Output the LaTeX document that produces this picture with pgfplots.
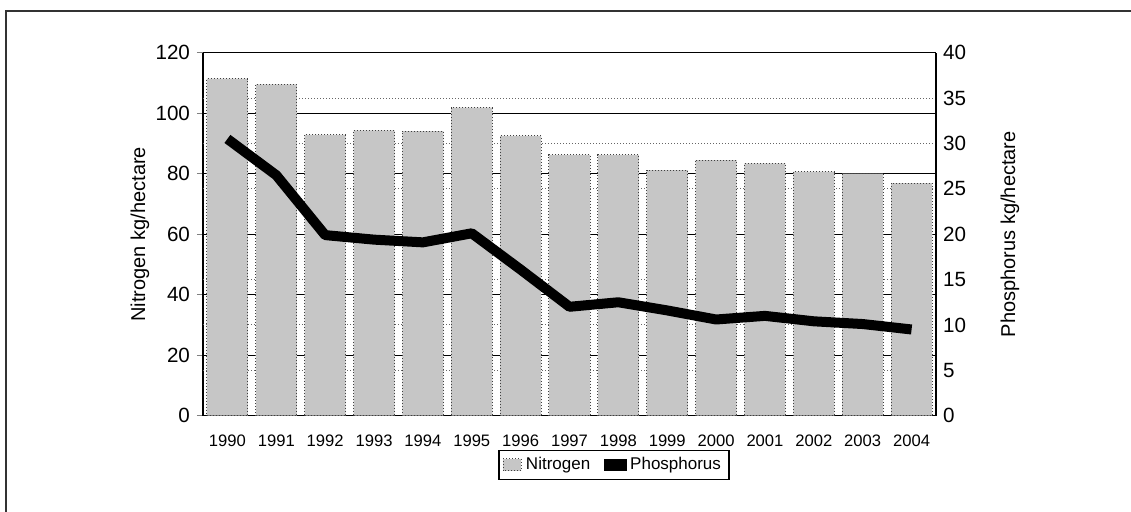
\documentclass[border=0pt]{standalone}
\usepackage{pgfplots}
\pgfplotsset{compat=1.18}
\usepackage{fontspec}
\setmainfont{Liberation Sans}
\begin{document}
\begin{tikzpicture}
\useasboundingbox (-101.5pt,-48.15pt) rectangle (464pt,207.85pt);
\draw[line width=0.8pt,black!80] (-98.5pt,-48.15pt) -- (-98.5pt,202.35pt) -- (464pt,202.35pt);
\begin{axis}[
  scale only axis, width=366.5pt, height=181.5pt,
  at={(0,0)}, anchor=south west,
  xmin=-0.5, xmax=14.5, ymin=0, ymax=120,
  axis y line*=left, axis x line*=bottom,
  xtick={0,...,14},
  xticklabels={1990,1991,1992,1993,1994,1995,1996,1997,1998,1999,2000,2001,2002,2003,2004},
  x tick label style={font=\fontsize{8.3}{9}\selectfont, yshift=-3pt},
  major x tick style={draw=none},
  ytick={0,20,...,120},
  y tick label style={font=\fontsize{10.3}{12}\selectfont},
  /pgf/number format/assume math mode=true,
  tick align=outside, major tick length=3pt,
  ymajorgrids, major grid style={black, line width=0.5pt},
  extra y ticks={15,30,45,75,90,105},
  extra y tick labels={},
  extra y tick style={major tick length=0pt, grid=major, major grid style={black!60, densely dotted, line width=0.5pt}},
  ylabel={Nitrogen kg/hectare},
  ylabel style={font=\fontsize{10}{12}\selectfont, at={(axis description cs:-0.0859,0.5)}, anchor=center},
  axis line style={black, line width=0.6pt},
  ybar, bar width=0.84,
]
\addplot[fill=gray!45, draw=black!75, densely dotted, line width=0.5pt] coordinates {
(0,111.4) (1,109.5) (2,92.8) (3,94.3) (4,94.1) (5,101.8) (6,92.5) (7,86.2)
(8,86.2) (9,81.2) (10,84.5) (11,83.4) (12,80.7) (13,80.0) (14,76.9)};
\end{axis}
\begin{axis}[
  scale only axis, width=366.5pt, height=181.5pt,
  at={(0,0)}, anchor=south west,
  xmin=-0.5, xmax=14.5, ymin=0, ymax=40,
  axis y line*=right, axis x line=none,
  ytick={0,5,...,40},
  y tick label style={font=\fontsize{10.3}{12}\selectfont},
  /pgf/number format/assume math mode=true,
  major tick length=0pt,
  ylabel={Phosphorus kg/hectare},
  ylabel style={font=\fontsize{10}{12}\selectfont, at={(axis description cs:1.101,0.5)}, anchor=center},
  axis line style={black, line width=0.6pt},
  legend style={at={(axis cs:7.91,-5.43)}, anchor=center, legend columns=2,
    font=\fontsize{8.5}{10}\selectfont, draw=black, line width=0.6pt,
    inner xsep=2pt, inner ysep=1.5pt,
    /tikz/every even column/.append style={column sep=5pt}},
  legend cell align=left,
]
\addlegendimage{legend image code/.code={\filldraw[fill=gray!45, draw=black!75, densely dotted, line width=0.5pt] (0pt,-3pt) rectangle (9pt,3pt);}}
\addlegendentry{Nitrogen}
\addplot[black, line width=5pt, line join=round,
  legend image code/.code={\fill[black, line width=0pt] (0pt,-2.8pt) rectangle (11pt,2.8pt);}] coordinates {
(0,30.5) (1,26.5) (2,19.9) (3,19.4) (4,19.1) (5,20.1) (6,16.1) (7,12.0)
(8,12.5) (9,11.6) (10,10.6) (11,11.0) (12,10.4) (13,10.1) (14,9.5)};
\addlegendentry{Phosphorus}
\end{axis}
\end{tikzpicture}
\end{document}
